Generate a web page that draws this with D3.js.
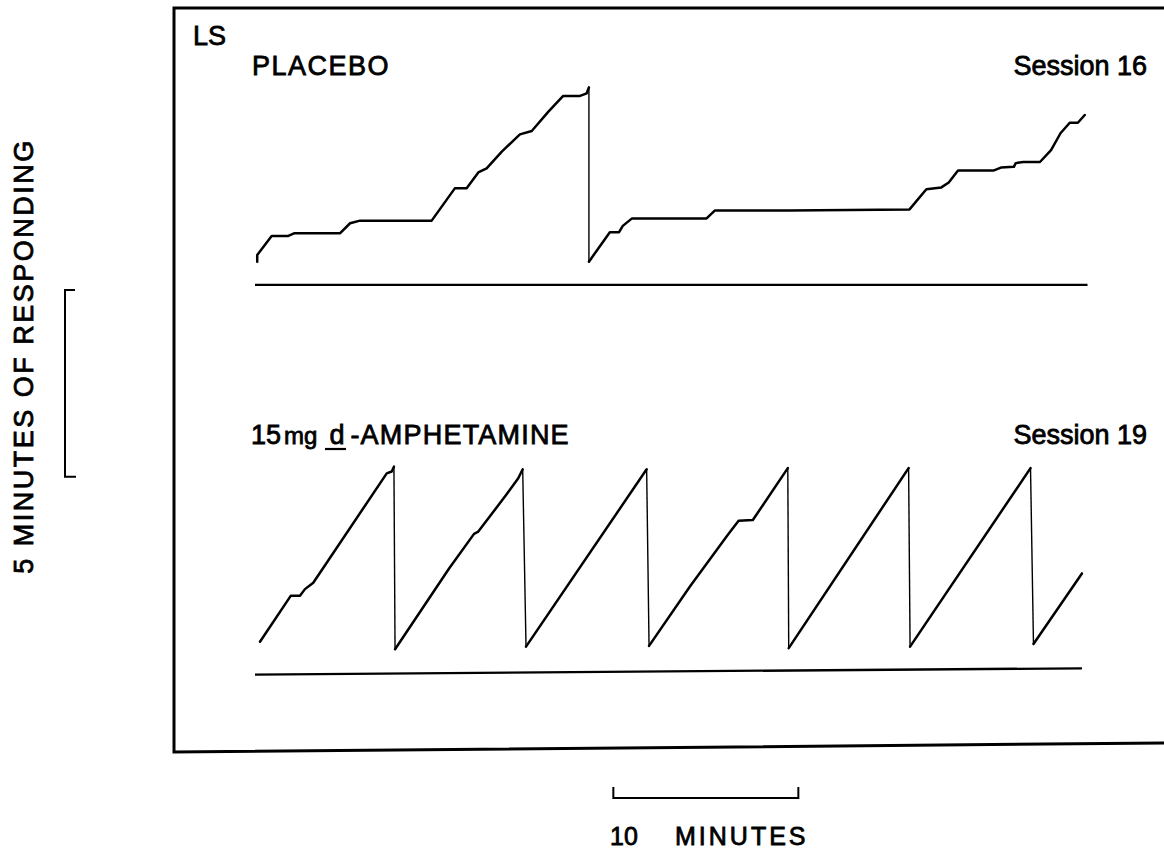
<!DOCTYPE html>
<html>
<head>
<meta charset="utf-8">
<script src="https://cdn.jsdelivr.net/npm/d3@7"></script>
<style>
  body { margin: 0; background: #fff; }
  text { font-family: "Liberation Sans", Arial, Helvetica, sans-serif; fill: #000; }
</style>
</head>
<body>
<svg id="chart" width="1164" height="849"></svg>
<script>
// Session time span, minutes
const sessionMinutes = [0, 45];
// Pen travel covered by one full excursion, minutes of responding
const penRange = [0, 5];

// Cumulative records: each run is [minute, pen position]; the pen resets between runs
const placeboRuns = [
  [[0.12,0],[0.12,0.18],[0.90,0.69],[1.80,0.69],[2.11,0.76],[4.59,0.76],[5.14,1.03],[5.68,1.10],
   [9.55,1.10],[10.81,1.97],[11.44,1.97],[12.07,2.39],[12.52,2.50],[13.34,2.95],[14.32,3.41],
   [14.96,3.50],[15.86,4.02],[16.66,4.44],[17.57,4.44],[17.93,4.51],[18.05,4.67]],
  [[18.05,0],[19.18,0.79],[19.68,0.79],[19.88,0.96],[20.38,1.16],[24.41,1.16],[24.85,1.37],
   [28.84,1.37],[35.38,1.40],[36.29,1.94],[37.10,1.99],[37.50,2.12],[38.00,2.44],[39.91,2.44],
   [40.32,2.52],[41.02,2.54],[41.12,2.64],[41.52,2.67],[42.43,2.67],[43.03,2.99],[43.54,3.44],
   [44.04,3.72],[44.48,3.72],[44.85,3.93]]
];
const amphetamineRuns = [
  [[0.27,0.14],[1.93,1.37],[2.43,1.37],[2.70,1.55],[3.15,1.72],[7.12,4.65],[7.39,4.70],[7.51,4.83]],
  [[7.57,-0.06],[10.50,2.11],[11.84,3.03],[12.07,3.09],[13.51,4.03],[14.23,4.52],[14.47,4.76]],
  [[14.65,0.01],[21.17,4.76]],
  [[21.30,0.03],[23.51,1.62],[25.55,3.00],[26.14,3.38],[26.91,3.40],[28.80,4.79]],
  [[28.85,-0.03],[35.33,4.79]],
  [[35.41,0.01],[41.92,4.79]],
  [[42.08,0.08],[44.70,1.97]]
];
// Event-pen lines under each record
const placeboEventLine = [[0,-0.62],[45,-0.62]];
const amphetamineEventLine = [[0,-0.74],[44.7,-0.57]];

// Calibration bars
const timeBarMinutes = [19.37, 29.37];
const timeBarLabel = ["10", "MINUTES"];
const responseBarLabel = "5 MINUTES OF RESPONDING";

// Panel labels
const subjectLabel = "LS";
const panelTitles = ["PLACEBO", "AMPHETAMINE"];
const sessionLabels = ["Session 16", "Session 19"];

const svg = d3.select("#chart");

const x = d3.scaleLinear().domain(sessionMinutes).range([255, 255 + 45 * 18.5]);
const yTop = d3.scaleLinear().domain(penRange).range([261.7, 75]);
const yBottom = d3.scaleLinear().domain(penRange).range([647, 460.3]);
const yBar = d3.scaleLinear().domain(penRange).range([476.7, 290]);

// Frame
svg.append("path")
  .attr("d", "M1164,8 H174 V752 L1164,743")
  .attr("fill", "none").attr("stroke", "#000").attr("stroke-width", 3);

function drawRecord(runs, y, eventLine) {
  const line = d3.line().x(d => x(d[0])).y(d => y(d[1]));
  const g = svg.append("g");
  g.selectAll("path.run").data(runs).join("path")
    .attr("class", "run")
    .attr("d", line)
    .attr("fill", "none").attr("stroke", "#000")
    .attr("stroke-width", 2.5).attr("stroke-linejoin", "round").attr("stroke-linecap", "round");
  // pen resets
  const resets = runs.slice(1).map((r, i) => [runs[i][runs[i].length - 1], r[0]]);
  g.selectAll("path.reset").data(resets).join("path")
    .attr("class", "reset")
    .attr("d", line)
    .attr("fill", "none").attr("stroke", "#000").attr("stroke-width", 1.4);
  g.append("path")
    .attr("d", line(eventLine))
    .attr("fill", "none").attr("stroke", "#000").attr("stroke-width", 2.3);
}
drawRecord(placeboRuns, yTop, placeboEventLine);
drawRecord(amphetamineRuns, yBottom, amphetamineEventLine);

const textStyle = sel => sel.attr("stroke", "#000").attr("stroke-width", 0.8);

// Labels
svg.append("text").attr("x", 193).attr("y", 45).attr("font-size", 27).call(textStyle).text(subjectLabel);
svg.append("text").attr("x", 252).attr("y", 75).attr("font-size", 27)
  .attr("letter-spacing", 1.5).call(textStyle).text(panelTitles[0]);
svg.append("text").attr("x", 1147).attr("y", 75).attr("font-size", 27)
  .attr("text-anchor", "end").call(textStyle).text(sessionLabels[0]);

const amph = svg.append("text").attr("x", 251).attr("y", 444).attr("font-size", 27).call(textStyle);
amph.append("tspan").text("15");
amph.append("tspan").attr("dx", 3).attr("font-size", 24).text("mg");
amph.append("tspan").attr("dx", 12).text("d");
amph.append("tspan").attr("dx", 6).attr("letter-spacing", 1.2).text("-" + panelTitles[1]);
// underline under the d
svg.append("line").attr("x1", 325).attr("x2", 346).attr("y1", 449).attr("y2", 449)
  .attr("stroke", "#000").attr("stroke-width", 2.2);
svg.append("text").attr("x", 1147).attr("y", 444).attr("font-size", 27)
  .attr("text-anchor", "end").call(textStyle).text(sessionLabels[1]);

// Time calibration bar
const tb0 = x(timeBarMinutes[0]), tb1 = x(timeBarMinutes[1]);
svg.append("path")
  .attr("d", `M${tb0},787 V798 H${tb1} V787`)
  .attr("fill", "none").attr("stroke", "#000").attr("stroke-width", 2);
svg.append("text").attr("x", 610).attr("y", 845).attr("font-size", 25).call(textStyle).text(timeBarLabel[0]);
svg.append("text").attr("x", 675).attr("y", 845).attr("font-size", 25)
  .attr("letter-spacing", 3).call(textStyle).text(timeBarLabel[1]);

// Response calibration bar
const rb0 = yBar(penRange[1]), rb1 = yBar(penRange[0]);
svg.append("path")
  .attr("d", `M75,${rb0} H65 V${rb1} H76`)
  .attr("fill", "none").attr("stroke", "#000").attr("stroke-width", 2);
svg.append("text")
  .attr("transform", "translate(33,356) rotate(-90)")
  .attr("text-anchor", "middle").attr("font-size", 27).attr("letter-spacing", 2.5)
  .call(textStyle).text(responseBarLabel);
</script>
</body>
</html>
